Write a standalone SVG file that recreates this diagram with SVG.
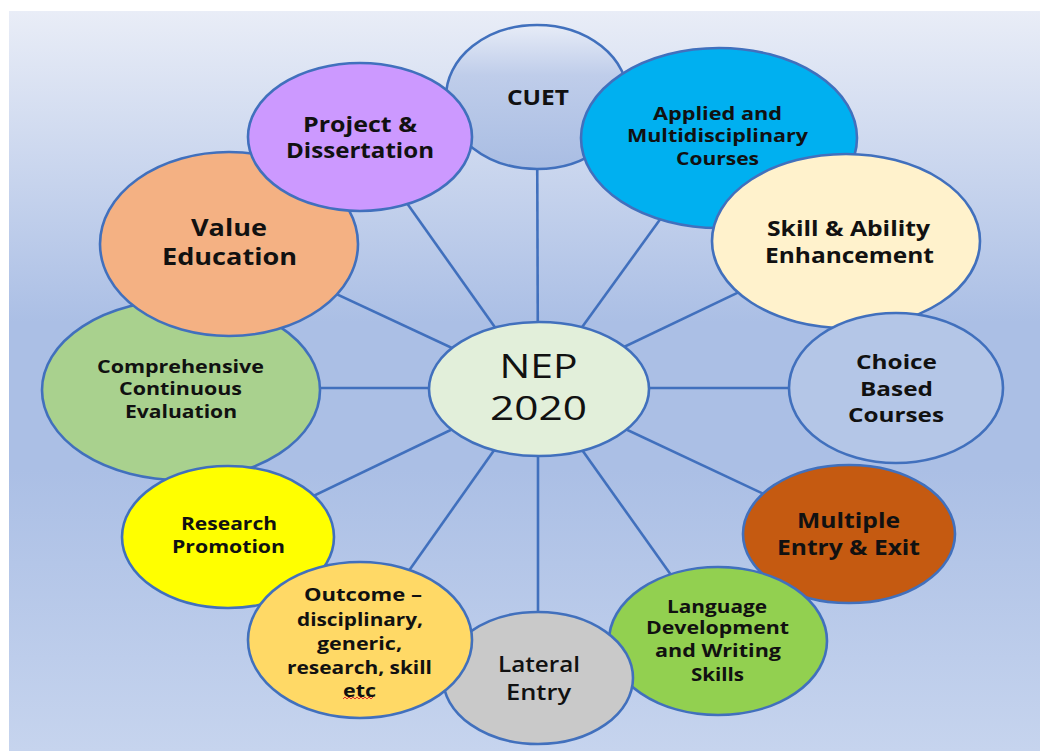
<svg xmlns="http://www.w3.org/2000/svg" width="1040" height="751" viewBox="0 0 1040 751">
<defs>
<linearGradient id="bg" x1="0" y1="0" x2="0" y2="1">
<stop offset="0" stop-color="#e9edf7"/>
<stop offset="0.42" stop-color="#abbfe5"/>
<stop offset="0.62" stop-color="#abbfe5"/>
<stop offset="1" stop-color="#c6d4ee"/>
</linearGradient>
<linearGradient id="cuetg" x1="0" y1="0" x2="0" y2="1">
<stop offset="0" stop-color="#e7ecf7"/>
<stop offset="0.35" stop-color="#bfcdea"/>
<stop offset="1" stop-color="#a9bde3"/>
</linearGradient>
<style>
.n{stroke:#4170bd;stroke-width:2.6}
.c line{stroke:#4170bd;stroke-width:2.6}
text{font-family:"Open Sans","Liberation Sans",sans-serif;font-weight:700;fill:#111;text-anchor:middle}
.s17{font-size:17px}
.s18{font-size:18px}
.s20{font-size:20px}
.s21{font-size:21px}
.s22{font-size:22px}
.s23{font-size:23px}
</style>
</defs>
<rect x="0" y="0" width="1040" height="751" fill="#ffffff"/>
<rect x="9" y="11" width="1031" height="740" fill="url(#bg)"/>
<g id="connectors" class="c">
<line x1="538" y1="388" x2="537" y2="97"/>
<line x1="538" y1="388" x2="360" y2="137"/>
<line x1="538" y1="388" x2="719" y2="138"/>
<line x1="538" y1="388" x2="229" y2="244"/>
<line x1="538" y1="388" x2="846" y2="241"/>
<line x1="538" y1="388" x2="181" y2="388"/>
<line x1="538" y1="388" x2="896" y2="388"/>
<line x1="538" y1="388" x2="228" y2="537"/>
<line x1="538" y1="388" x2="849" y2="534"/>
<line x1="538" y1="388" x2="360" y2="640"/>
<line x1="538" y1="388" x2="718" y2="641"/>
<line x1="538" y1="388" x2="538" y2="678"/>
</g>
<g id="cuet">
<ellipse class="n" cx="537" cy="97" rx="91" ry="72" fill="url(#cuetg)"/>
<text class="s21" x="538" y="105" textLength="62" lengthAdjust="spacingAndGlyphs">CUET</text>
</g>
<g id="applied">
<ellipse class="n" cx="719" cy="138" rx="138" ry="90" fill="#00b0f0"/>
<text class="s18" x="717.5" y="119.5" textLength="129" lengthAdjust="spacingAndGlyphs">Applied and</text>
<text class="s18" x="717.5" y="141.5" textLength="181" lengthAdjust="spacingAndGlyphs">Multidisciplinary</text>
<text class="s18" x="717.5" y="164.5" textLength="83" lengthAdjust="spacingAndGlyphs">Courses</text>
</g>
<g id="skill">
<ellipse class="n" cx="846" cy="241" rx="134" ry="87" fill="#fff2cc"/>
<text class="s22" x="848.5" y="236" textLength="163" lengthAdjust="spacingAndGlyphs">Skill &amp; Ability</text>
<text class="s22" x="849.5" y="263" textLength="169" lengthAdjust="spacingAndGlyphs">Enhancement</text>
</g>
<g id="choice">
<ellipse class="n" cx="896" cy="388" rx="107" ry="75" fill="#b4c6e7"/>
<text class="s20" x="896.5" y="369" textLength="81" lengthAdjust="spacingAndGlyphs">Choice</text>
<text class="s20" x="896.5" y="396" textLength="73" lengthAdjust="spacingAndGlyphs">Based</text>
<text class="s20" x="896" y="422" textLength="96" lengthAdjust="spacingAndGlyphs">Courses</text>
</g>
<g id="multiple">
<ellipse class="n" cx="849" cy="534" rx="106" ry="69" fill="#c55a11"/>
<text class="s21" x="848.5" y="528" textLength="103" lengthAdjust="spacingAndGlyphs">Multiple</text>
<text class="s21" x="848.5" y="555" textLength="143" lengthAdjust="spacingAndGlyphs">Entry &amp; Exit</text>
</g>
<g id="language">
<ellipse class="n" cx="718" cy="641" rx="109" ry="74" fill="#92d050"/>
<text class="s17" x="717" y="612.5" textLength="100" lengthAdjust="spacingAndGlyphs">Language</text>
<text class="s17" x="717.5" y="634" textLength="143" lengthAdjust="spacingAndGlyphs">Development</text>
<text class="s17" x="718" y="657" textLength="126" lengthAdjust="spacingAndGlyphs">and Writing</text>
<text class="s17" x="717.5" y="681" textLength="53" lengthAdjust="spacingAndGlyphs">Skills</text>
</g>
<g id="lateral">
<ellipse class="n" cx="538" cy="678" rx="95" ry="66" fill="#c9c9c9"/>
<text class="s22" x="539" y="672" style="font-weight:600" textLength="82" lengthAdjust="spacingAndGlyphs">Lateral</text>
<text class="s22" x="538.5" y="700" style="font-weight:600" textLength="65" lengthAdjust="spacingAndGlyphs">Entry</text>
</g>
<g id="comprehensive">
<ellipse class="n" cx="181" cy="390" rx="139" ry="90" fill="#a9d18e"/>
<text class="s18" x="180.5" y="372.5" textLength="167" lengthAdjust="spacingAndGlyphs">Comprehensive</text>
<text class="s18" x="180.5" y="394.5" textLength="123" lengthAdjust="spacingAndGlyphs">Continuous</text>
<text class="s18" x="181" y="417.5" textLength="112" lengthAdjust="spacingAndGlyphs">Evaluation</text>
</g>
<g id="research">
<ellipse class="n" cx="228" cy="537" rx="106" ry="71" fill="#ffff00"/>
<text class="s18" x="229" y="530" textLength="96" lengthAdjust="spacingAndGlyphs">Research</text>
<text class="s18" x="228.5" y="553" textLength="113" lengthAdjust="spacingAndGlyphs">Promotion</text>
</g>
<g id="outcome">
<ellipse class="n" cx="360" cy="640" rx="112" ry="78" fill="#ffd966"/>
<text class="s18" x="363" y="601" textLength="118" lengthAdjust="spacingAndGlyphs">Outcome –</text>
<text class="s18" x="360" y="625.5" textLength="126" lengthAdjust="spacingAndGlyphs">disciplinary,</text>
<text class="s18" x="359.5" y="649.5" textLength="85" lengthAdjust="spacingAndGlyphs">generic,</text>
<text class="s18" x="359.5" y="673.5" textLength="145" lengthAdjust="spacingAndGlyphs">research, skill</text>
<text class="s18" x="359.5" y="696.5" textLength="33" lengthAdjust="spacingAndGlyphs">etc</text>
<path d="M343,699 l2,-2 l2,2 l2,-2 l2,2 l2,-2 l2,2 l2,-2 l2,2 l2,-2 l2,2 l2,-2 l2,2 l2,-2 l2,2 l2,-2" fill="none" stroke="#e03030" stroke-width="1"/>
</g>
<g id="value">
<ellipse class="n" cx="229" cy="244" rx="129" ry="92" fill="#f4b183"/>
<text class="s23" x="229" y="236" textLength="76" lengthAdjust="spacingAndGlyphs">Value</text>
<text class="s23" x="229.5" y="265" textLength="135" lengthAdjust="spacingAndGlyphs">Education</text>
</g>
<g id="project">
<ellipse class="n" cx="360" cy="137" rx="112" ry="74" fill="#cc99ff"/>
<text class="s21" x="360" y="132" textLength="114" lengthAdjust="spacingAndGlyphs">Project &amp;</text>
<text class="s21" x="360" y="158" textLength="148" lengthAdjust="spacingAndGlyphs">Dissertation</text>
</g>
<g id="nep">
<ellipse class="n" cx="539" cy="389" rx="110" ry="67" fill="#e2efda"/>
<text x="538.5" y="378" style="font-size:32px;font-weight:400" textLength="78" lengthAdjust="spacingAndGlyphs">NEP</text>
<text x="538.5" y="420" style="font-size:32px;font-weight:400" textLength="97" lengthAdjust="spacingAndGlyphs">2020</text>
</g>
</svg>
